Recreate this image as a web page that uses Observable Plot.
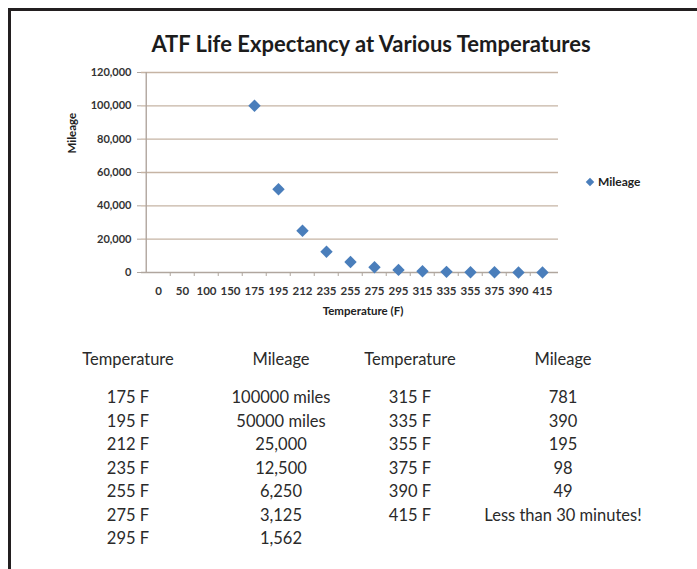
<!DOCTYPE html>
<html><head><meta charset="utf-8">
<script src="https://cdn.jsdelivr.net/npm/d3@7"></script>
<script src="https://cdn.jsdelivr.net/npm/@observablehq/plot@0.6"></script>
<style>
body{margin:0;background:#fff;font-family:Lato,"DejaVu Sans",sans-serif;}
#page{position:relative;width:697px;height:569px;overflow:hidden;background:#fff}
#frame{position:absolute;left:8px;top:8px;width:720px;height:600px;border-top:3px solid #231f20;border-left:3px solid #231f20;}
#chart{position:absolute;left:0;top:0}
#title{position:absolute;left:371px;top:43px;transform:translate(-50%,-50%);white-space:nowrap;font-weight:700;font-size:22px;color:#1c1c1c}
#legend{position:absolute;left:587px;top:174px;white-space:nowrap;font-weight:700;font-size:12px;color:#222;display:flex;align-items:center}
#legend i{display:inline-block;width:6px;height:6px;background:#4a7ebb;transform:rotate(45deg);margin-right:5px}
.cell{position:absolute;transform:translate(-50%,-50%);white-space:nowrap;font-size:16.5px;color:#2a2a2a}
</style></head><body>
<div id="page"><div id="chart"></div><div id="frame"></div><div id="title"></div><div id="legend"></div><div id="table"></div></div>
<script>
const categories = ["0","50","100","150","175","195","212","235","255","275","295","315","335","355","375","390","415"];
const temperatures = ["175","195","212","235","255","275","295","315","335","355","375","390","415"];
const mileage = [100000,50000,25000,12500,6250,3125,1562,781,390,195,98,49,0];
const yTicks = [0,20000,40000,60000,80000,100000,120000];
const titleText = "ATF Life Expectancy at Various Temperatures";
const xTitle = "Temperature (F)";
const yTitle = "Mileage";
const seriesName = "Mileage";
const headers = ["Temperature","Mileage","Temperature","Mileage"];
const tableTempLeft = ["175 F","195 F","212 F","235 F","255 F","275 F","295 F"];
const tableMileLeft = ["100000 miles","50000 miles","25,000","12,500","6,250","3,125","1,562"];
const tableTempRight = ["315 F","335 F","355 F","375 F","390 F","415 F"];
const tableMileRight = ["781","390","195","98","49","Less than 30 minutes!"];

const W = 697, H = 330, mL = 141, mR = 139, mT = 72, mB = 58;
const bw = (W - mL - mR) / categories.length;
const data = temperatures.map((t, i) => ({t, m: mileage[i]}));

const chart = Plot.plot({
  width: W, height: H,
  marginLeft: mL, marginRight: mR, marginTop: mT, marginBottom: mB,
  style: {fontFamily: "Lato, sans-serif", background: "transparent", overflow: "visible"},
  x: {type: "band", domain: categories, padding: 0, label: null},
  y: {domain: [0, 120000], label: null},
  marks: [
    Plot.ruleY(yTicks.slice(1), {stroke: "#c6b4a4", strokeWidth: 1.4}),
    Plot.ruleY([0], {stroke: "#b0a69e", strokeWidth: 1.4}),
    Plot.ruleX([categories[0]], {dx: -bw / 2, stroke: "#b0a69e", strokeWidth: 1.4}),
    Plot.ruleX(categories.slice(1), {x: d => d, dx: -bw / 2, y1: 0, y2: 0, insetBottom: -4, stroke: "#b0a69e"}),
    Plot.axisY(yTicks, {tickSize: 4, tickPadding: 6, tickFormat: d3.format(","), fontSize: 11, fontWeight: 700, fill: "#333", stroke: "#b0a69e"}),
    Plot.axisX({tickSize: 0, tickPadding: 14, fontSize: 11.5, fontWeight: 700, fill: "#333"}),
    Plot.dot(data, {x: "t", y: "m", symbol: "diamond2", r: 5.6, fill: "#4a7ebb", stroke: "none"}),
    Plot.text([xTitle], {frameAnchor: "bottom", dx: 13, dy: 42, fontSize: 11.5, fontWeight: 700, fill: "#222"}),
    Plot.text([yTitle], {frameAnchor: "left", dx: -69, dy: -19, rotate: -90, fontSize: 11.5, fontWeight: 700, fill: "#222"})
  ]
});
document.getElementById("chart").appendChild(chart);
document.getElementById("title").textContent = titleText;
document.getElementById("legend").innerHTML = "<i></i><span></span>";
document.querySelector("#legend span").textContent = seriesName;

const cols = [128, 281, 410, 563];
const headerY = 359, row0 = 397, step = 23.5;
const table = document.getElementById("table");
function cell(text, x, y) {
  const d = document.createElement("div");
  d.className = "cell";
  d.style.left = x + "px"; d.style.top = y + "px";
  d.textContent = text;
  table.appendChild(d);
}
headers.forEach((h, i) => cell(h, cols[i], headerY));
tableTempLeft.forEach((t, i) => cell(t, cols[0], row0 + i * step));
tableMileLeft.forEach((t, i) => cell(t, cols[1], row0 + i * step));
tableTempRight.forEach((t, i) => cell(t, cols[2], row0 + i * step));
tableMileRight.forEach((t, i) => cell(t, cols[3], row0 + i * step));
</script>
</body></html>
